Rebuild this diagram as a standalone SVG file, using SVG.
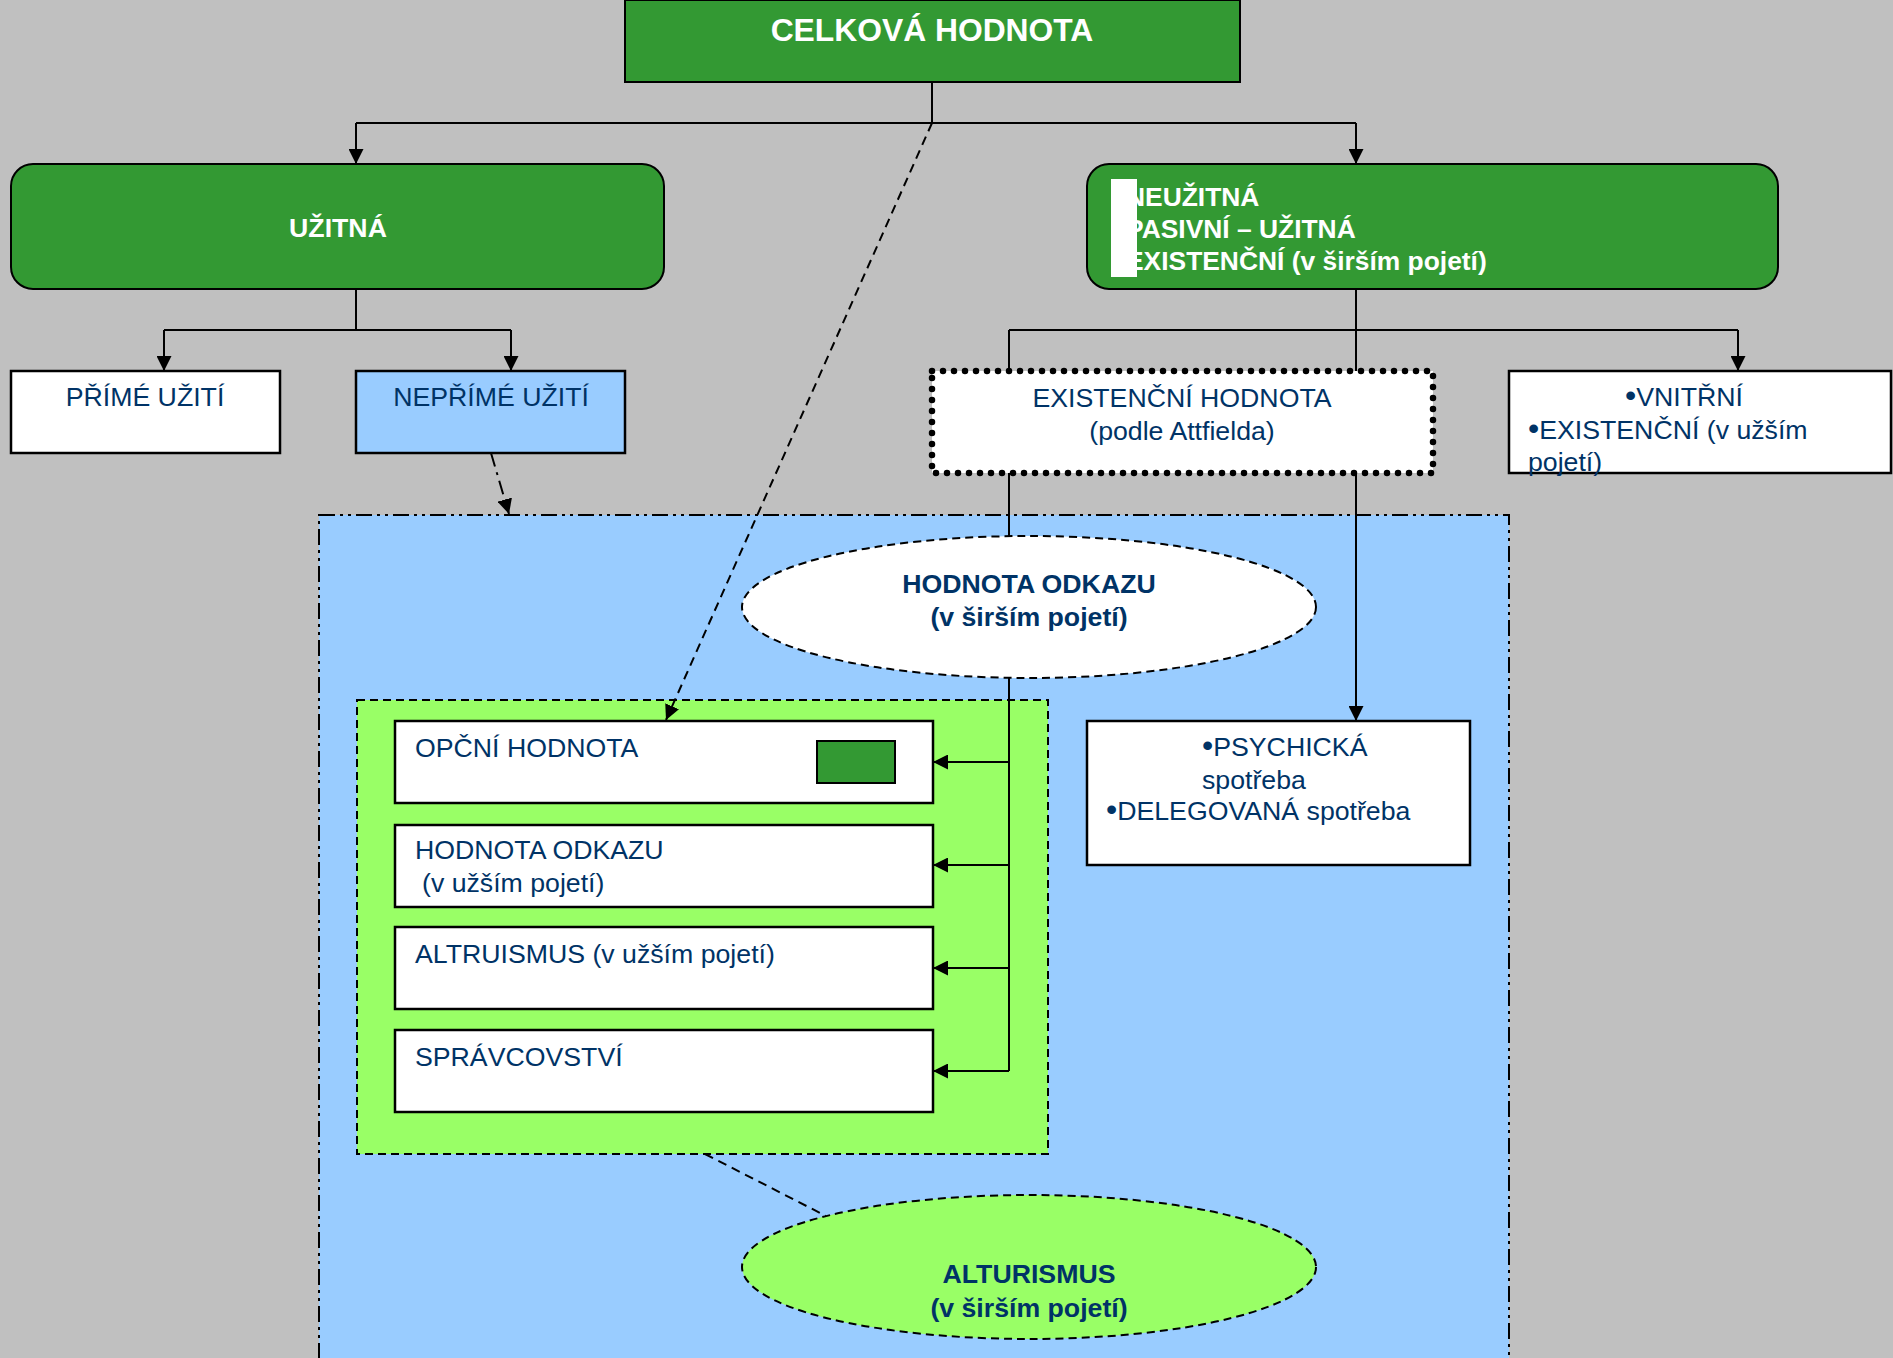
<svg xmlns="http://www.w3.org/2000/svg" width="1893" height="1358" viewBox="0 0 1893 1358">
<style>
text{font-family:"Liberation Sans",Arial,sans-serif;font-size:26.7px;fill:#003366}
.w{fill:#ffffff;font-weight:bold}
.b{font-weight:bold}
.c{text-anchor:middle}
.bu{font-size:32px}
.ln{fill:none;stroke:#000;stroke-width:2}
.box{fill:#fff;stroke:#000;stroke-width:2.5}
.grn{fill:#339933;stroke:#000;stroke-width:2}
</style>
<defs>
<marker id="ah" viewBox="0 0 14 14" refX="14" refY="7" markerWidth="15" markerHeight="15" markerUnits="userSpaceOnUse" orient="auto">
<path d="M0,0 L14,7 L0,14 z" fill="#000"/>
</marker>
</defs>
<rect x="0" y="0" width="1893" height="1358" fill="#C0C0C0"/>
<g id="region-blue">
<rect x="319" y="515" width="1190" height="860" fill="#99CCFF" stroke="#000" stroke-width="2" stroke-dasharray="16 5 3 5 3 5"/>
</g>
<g id="region-green">
<rect x="357" y="700" width="691" height="454" fill="#99FF66" stroke="#000" stroke-width="2" stroke-dasharray="8 5"/>
</g>
<g id="connectors">
<path class="ln" d="M932,82 V123 M356,123 H1356"/>
<path class="ln" d="M356,123 V164" marker-end="url(#ah)"/>
<path class="ln" d="M1356,123 V164" marker-end="url(#ah)"/>
<path class="ln" d="M356,289 V330 M164,330 H511"/>
<path class="ln" d="M164,330 V371" marker-end="url(#ah)"/>
<path class="ln" d="M511,330 V371" marker-end="url(#ah)"/>
<path class="ln" d="M1356,289 V371 M1009,330 H1738 M1009,330 V371"/>
<path class="ln" d="M1738,330 V371" marker-end="url(#ah)"/>
<path class="ln" d="M1009,473 V536 M1009,678 V1071"/>
<path class="ln" d="M1009,762 H933" marker-end="url(#ah)"/>
<path class="ln" d="M1009,865 H933" marker-end="url(#ah)"/>
<path class="ln" d="M1009,968 H933" marker-end="url(#ah)"/>
<path class="ln" d="M1009,1071 H933" marker-end="url(#ah)"/>
<path class="ln" d="M1356,473 V721" marker-end="url(#ah)"/>
<path class="ln" d="M932,123 L666,720" stroke-dasharray="9 6" marker-end="url(#ah)"/>
<path class="ln" d="M491,453 L509,514" stroke-dasharray="14 6 3 6" marker-end="url(#ah)"/>
<path class="ln" d="M705,1154 L826,1216" stroke-dasharray="9 6"/>
</g>
<g id="celkova">
<rect class="grn" x="625" y="0" width="615" height="82"/>
<text class="w c" x="932" y="41" style="font-size:31.8px">CELKOVÁ HODNOTA</text>
</g>
<g id="uzitna">
<rect class="grn" x="11" y="164" width="653" height="125" rx="22"/>
<text class="w c" x="338" y="237">UŽITNÁ</text>
</g>
<g id="neuzitna">
<rect class="grn" x="1087" y="164" width="691" height="125" rx="22"/>
<text class="w" x="1126" y="206" style="font-size:26.4px">NEUŽITNÁ</text>
<text class="w" x="1126" y="238" style="font-size:26.4px">PASIVNÍ – UŽITNÁ</text>
<text class="w" x="1126" y="270" style="font-size:26.4px">EXISTENČNÍ (v širším pojetí)</text>
<rect x="1111" y="179" width="26" height="98" fill="#fff"/>
</g>
<g id="prime">
<rect class="box" x="11" y="371" width="269" height="82"/>
<text class="c" x="145" y="406">PŘÍMÉ UŽITÍ</text>
</g>
<g id="neprime">
<rect class="box" x="356" y="371" width="269" height="82" style="fill:#99CCFF"/>
<text class="c" x="491" y="406">NEPŘÍMÉ UŽITÍ</text>
</g>
<g id="existencni">
<rect x="932" y="371" width="501" height="102" fill="#fff" stroke="#000" stroke-width="6.5" stroke-linecap="round" stroke-dasharray="0 11"/>
<text class="c" x="1182" y="407">EXISTENČNÍ HODNOTA</text>
<text class="c" x="1182" y="440">(podle Attfielda)</text>
</g>
<g id="vnitrni">
<rect class="box" x="1509" y="371" width="382" height="102"/>
<text x="1625" y="406"><tspan class="bu">•</tspan>VNITŘNÍ</text>
<text x="1528" y="439"><tspan class="bu">•</tspan>EXISTENČNÍ (v užším</text>
<text x="1528" y="471">pojetí)</text>
</g>
<g id="odkaz-sirsi">
<ellipse cx="1029" cy="607" rx="287" ry="71" fill="#fff" stroke="#000" stroke-width="2" stroke-dasharray="8 5"/>
<text class="b c" x="1029" y="593">HODNOTA ODKAZU</text>
<text class="b c" x="1029" y="626">(v širším pojetí)</text>
</g>
<g id="opcni">
<rect class="box" x="395" y="721" width="538" height="82"/>
<text x="415" y="757">OPČNÍ HODNOTA</text>
<rect class="grn" x="817" y="741" width="78" height="42"/>
</g>
<g id="odkaz-uzsi">
<rect class="box" x="395" y="825" width="538" height="82"/>
<text x="415" y="859">HODNOTA ODKAZU</text>
<text x="422" y="892">(v užším pojetí)</text>
</g>
<g id="altruismus">
<rect class="box" x="395" y="927" width="538" height="82"/>
<text x="415" y="963">ALTRUISMUS (v užším pojetí)</text>
</g>
<g id="spravcovstvi">
<rect class="box" x="395" y="1030" width="538" height="82"/>
<text x="415" y="1066">SPRÁVCOVSTVÍ</text>
</g>
<g id="psychicka">
<rect class="box" x="1087" y="721" width="383" height="144"/>
<text x="1202" y="756"><tspan class="bu">•</tspan>PSYCHICKÁ</text>
<text x="1202" y="789">spotřeba</text>
<text x="1106" y="820"><tspan class="bu">•</tspan>DELEGOVANÁ spotřeba</text>
</g>
<g id="alturismus">
<ellipse cx="1029" cy="1267" rx="287" ry="72" fill="#99FF66" stroke="#000" stroke-width="2" stroke-dasharray="8 5"/>
<text class="b c" x="1029" y="1283">ALTURISMUS</text>
<text class="b c" x="1029" y="1317">(v širším pojetí)</text>
</g>
</svg>
